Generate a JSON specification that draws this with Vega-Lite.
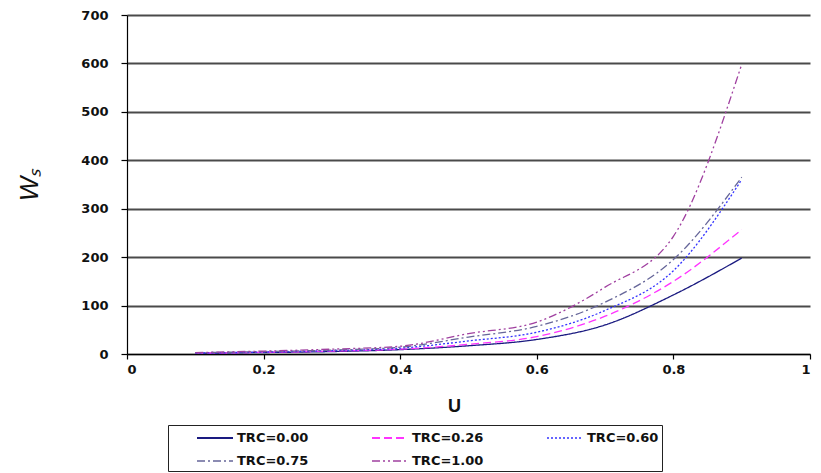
{
  "$schema": "https://vega.github.io/schema/vega-lite/v6.json",
  "width": 683,
  "height": 339,
  "autosize": {"type": "none"},
  "padding": {"left": 127, "top": 15, "right": 11, "bottom": 119},
  "background": "white",
  "config": {
    "view": {"stroke": null},
    "font": "DejaVu Sans"
  },
  "data": {
    "values": [
      {"u": 0.1, "w": 1.5, "s": "TRC=0.00"}, {"u": 0.2, "w": 3, "s": "TRC=0.00"}, {"u": 0.3, "w": 5, "s": "TRC=0.00"}, {"u": 0.4, "w": 9, "s": "TRC=0.00"}, {"u": 0.5, "w": 17, "s": "TRC=0.00"}, {"u": 0.6, "w": 30, "s": "TRC=0.00"}, {"u": 0.7, "w": 60, "s": "TRC=0.00"}, {"u": 0.8, "w": 122, "s": "TRC=0.00"}, {"u": 0.9, "w": 198, "s": "TRC=0.00"},
      {"u": 0.1, "w": 1.8, "s": "TRC=0.26"}, {"u": 0.2, "w": 3.5, "s": "TRC=0.26"}, {"u": 0.3, "w": 6, "s": "TRC=0.26"}, {"u": 0.4, "w": 10, "s": "TRC=0.26"}, {"u": 0.5, "w": 20, "s": "TRC=0.26"}, {"u": 0.6, "w": 36, "s": "TRC=0.26"}, {"u": 0.7, "w": 78, "s": "TRC=0.26"}, {"u": 0.8, "w": 150, "s": "TRC=0.26"}, {"u": 0.9, "w": 257, "s": "TRC=0.26"},
      {"u": 0.1, "w": 2, "s": "TRC=0.60"}, {"u": 0.2, "w": 4, "s": "TRC=0.60"}, {"u": 0.3, "w": 7, "s": "TRC=0.60"}, {"u": 0.4, "w": 12, "s": "TRC=0.60"}, {"u": 0.5, "w": 27, "s": "TRC=0.60"}, {"u": 0.6, "w": 45, "s": "TRC=0.60"}, {"u": 0.7, "w": 90, "s": "TRC=0.60"}, {"u": 0.8, "w": 172, "s": "TRC=0.60"}, {"u": 0.9, "w": 360, "s": "TRC=0.60"},
      {"u": 0.1, "w": 2.5, "s": "TRC=0.75"}, {"u": 0.2, "w": 5, "s": "TRC=0.75"}, {"u": 0.3, "w": 8, "s": "TRC=0.75"}, {"u": 0.4, "w": 14, "s": "TRC=0.75"}, {"u": 0.5, "w": 35, "s": "TRC=0.75"}, {"u": 0.6, "w": 57, "s": "TRC=0.75"}, {"u": 0.7, "w": 107, "s": "TRC=0.75"}, {"u": 0.8, "w": 195, "s": "TRC=0.75"}, {"u": 0.9, "w": 365, "s": "TRC=0.75"},
      {"u": 0.1, "w": 3, "s": "TRC=1.00"}, {"u": 0.2, "w": 6, "s": "TRC=1.00"}, {"u": 0.3, "w": 10, "s": "TRC=1.00"}, {"u": 0.4, "w": 16, "s": "TRC=1.00"}, {"u": 0.5, "w": 42, "s": "TRC=1.00"}, {"u": 0.6, "w": 66, "s": "TRC=1.00"}, {"u": 0.7, "w": 138, "s": "TRC=1.00"}, {"u": 0.8, "w": 243, "s": "TRC=1.00"}, {"u": 0.9, "w": 598, "s": "TRC=1.00"}
    ]
  },
  "mark": {"type": "line", "interpolate": "monotone", "strokeWidth": 1.3},
  "encoding": {
    "x": {
      "field": "u", "type": "quantitative",
      "scale": {"domain": [0, 1], "nice": false},
      "axis": {
        "title": "U", "values": [0, 0.2, 0.4, 0.6, 0.8, 1], "format": "~g",
        "grid": false, "domainColor": "#000", "domainWidth": 1.2,
        "tickColor": "#000", "tickSize": 5, "tickWidth": 1.2,
        "labelFont": "DejaVu Sans", "labelFontSize": 13, "labelFontWeight": "bold", "labelColor": "#111",
        "labelPadding": 4,
        "titleFont": "Liberation Sans", "titleFontSize": 18, "titleFontWeight": "bold", "titleColor": "#111",
        "titlePadding": 21, "titleX": 327
      }
    },
    "y": {
      "field": "w", "type": "quantitative",
      "scale": {"domain": [0, 700], "nice": false},
      "axis": {
        "title": "Wₛ", "values": [0, 100, 200, 300, 400, 500, 600, 700],
        "grid": true, "gridColor": "#4a4a4a", "gridWidth": 1.8,
        "domainColor": "#000", "domainWidth": 1.2,
        "tickColor": "#000", "tickSize": 6, "tickWidth": 1.2,
        "labelFont": "DejaVu Sans", "labelFontSize": 13, "labelFontWeight": "bold", "labelColor": "#111",
        "labelPadding": 13,
        "titleFont": "Liberation Sans", "titleFontSize": 26, "titleFontWeight": "normal", "titleFontStyle": "italic", "titleColor": "#111",
        "titlePadding": 38
      }
    },
    "color": {
      "field": "s", "type": "nominal",
      "scale": {
        "domain": ["TRC=0.00", "TRC=0.26", "TRC=0.60", "TRC=0.75", "TRC=1.00"],
        "range": ["#1a1a80", "#ff33ff", "#3333ff", "#666699", "#a040a0"]
      },
      "legend": {
        "title": null, "orient": "none", "legendX": 41, "legendY": 410,
        "direction": "horizontal", "columns": 3, "columnPadding": 37, "rowPadding": 6,
        "symbolType": "M-2,0H2", "symbolSize": 324, "symbolStrokeWidth": 2, "symbolOffset": 34,
        "labelFont": "DejaVu Sans", "labelFontSize": 13, "labelFontWeight": "bold", "labelColor": "#111",
        "labelOffset": 12, "labelLimit": 200,
        "strokeColor": "#222", "padding": 3, "fillColor": "white"
      }
    },
    "strokeDash": {
      "field": "s", "type": "nominal",
      "scale": {
        "domain": ["TRC=0.00", "TRC=0.26", "TRC=0.60", "TRC=0.75", "TRC=1.00"],
        "range": [[1, 0], [8, 4], [2, 2], [8, 3, 2, 3], [8, 3, 2, 3, 2, 3]]
      },
      "legend": null
    },
    "strokeWidth": {
      "field": "s", "type": "nominal",
      "scale": {
        "domain": ["TRC=0.00", "TRC=0.26", "TRC=0.60", "TRC=0.75", "TRC=1.00"],
        "range": [2, 1.3, 1.3, 1.3, 1.3]
      },
      "legend": null
    }
  }
}
